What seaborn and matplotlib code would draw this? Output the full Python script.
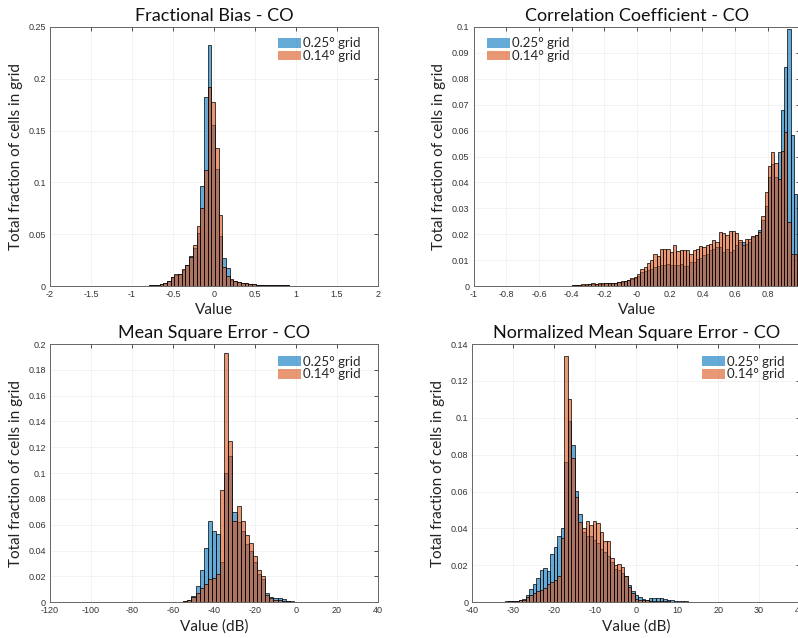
import numpy as np
import pandas as pd
import matplotlib
matplotlib.use("Agg")
import matplotlib.pyplot as plt
from matplotlib.patches import Patch
from matplotlib.ticker import FuncFormatter
import seaborn as sns

# --- histogram heights (fraction of cells per bin) ---
series_labels = ["0.25\u00b0 grid", "0.14\u00b0 grid"]

# Fractional Bias
fb_start, fb_width = -0.798, 0.045
fb_coarse = [0.0005, 0.0007, 0.001, 0.0018, 0.003, 0.005, 0.009, 0.011, 0.012, 0.015,
             0.020, 0.029, 0.037, 0.051, 0.097, 0.182, 0.233, 0.155, 0.113, 0.048,
             0.027, 0.017, 0.006, 0.0045, 0.0035, 0.003, 0.0025, 0.002, 0.0015, 0.0012,
             0.001, 0.0009, 0.0008, 0.0007, 0.0006, 0.0006, 0.0005, 0.0005, 0.0004, 0.0004,
             0.0004, 0.0003, 0.0003, 0.0003, 0.0003, 0.0002, 0.0002, 0.0002, 0.0002, 0.0002,
             0.0002, 0.0002]
fb_fine = [0.0005, 0.0008, 0.0012, 0.002, 0.003, 0.005, 0.009, 0.012, 0.012, 0.016,
           0.020, 0.028, 0.040, 0.058, 0.075, 0.112, 0.192, 0.178, 0.133, 0.069,
           0.018, 0.010, 0.007, 0.005, 0.004, 0.003, 0.0025, 0.002, 0.0015, 0.0012,
           0.001, 0.0009, 0.0008, 0.0007, 0.0006, 0.0006, 0.0005, 0.0005, 0.0004, 0.0004,
           0.0004, 0.0003, 0.0003, 0.0003, 0.0003, 0.0002, 0.0002, 0.0002, 0.0002, 0.0002,
           0.0002, 0.0002]

# Correlation Coefficient
cc_start, cc_width = -0.4, 0.02
cc_coarse = [0.0003, 0.0003, 0.0004, 0.0004, 0.0005, 0.0006, 0.0007, 0.0007, 0.0008, 0.0009,
             0.001, 0.001, 0.0011, 0.0012, 0.0014, 0.0016, 0.0018, 0.0022, 0.0026, 0.003,
             0.0037, 0.0054, 0.0058, 0.0063, 0.0067, 0.0074, 0.0076, 0.008, 0.0083, 0.0084,
             0.008, 0.008, 0.0082, 0.0086, 0.0076, 0.0076, 0.0093, 0.0093, 0.0106, 0.0108,
             0.0119, 0.0125, 0.0138, 0.0144, 0.0151, 0.0151, 0.0132, 0.0144, 0.0132, 0.014,
             0.0157, 0.017, 0.017, 0.0164, 0.017, 0.019, 0.0196, 0.0215, 0.0254, 0.031,
             0.042, 0.047, 0.042, 0.0519, 0.068, 0.0844, 0.0992, 0.0583, 0.0357, 0.0074]
cc_fine = [0.0002, 0.0003, 0.0005, 0.0006, 0.0007, 0.0008, 0.001, 0.0009, 0.0011, 0.0012,
           0.0012, 0.0013, 0.0012, 0.0013, 0.0016, 0.0018, 0.0021, 0.0025, 0.003, 0.0036,
           0.0045, 0.0067, 0.0074, 0.0089, 0.0099, 0.0123, 0.0115, 0.0141, 0.0142, 0.0141,
           0.0132, 0.016, 0.0135, 0.0138, 0.0138, 0.014, 0.0123, 0.0138, 0.0141, 0.0153,
           0.0151, 0.0157, 0.0164, 0.0177, 0.017, 0.0209, 0.0203, 0.0196, 0.0213, 0.0213,
           0.0203, 0.0177, 0.016, 0.018, 0.018, 0.0192, 0.0196, 0.021, 0.027, 0.0364,
           0.0464, 0.0519, 0.0473, 0.0415, 0.052, 0.0596, 0.0248, 0.0125, 0.0125, 0.005]

# Mean Square Error (dB)
mse_start, mse_width = -57.0, 2.0
mse_coarse = [0.0005, 0.001, 0.002, 0.005, 0.0126, 0.025, 0.042, 0.063, 0.055, 0.053,
              0.031, 0.100, 0.113, 0.070, 0.062, 0.055, 0.045, 0.040, 0.031, 0.022,
              0.018, 0.007, 0.004, 0.003, 0.003, 0.0025, 0.0012, 0.0006, 0.0004, 0.0003,
              0.0002, 0.0002, 0.0002, 0.0002]
mse_fine = [0.0003, 0.0008, 0.0015, 0.004, 0.007, 0.011, 0.014, 0.018, 0.019, 0.022,
            0.087, 0.193, 0.125, 0.063, 0.0748, 0.063, 0.052, 0.046, 0.036, 0.025,
            0.020, 0.006, 0.003, 0.002, 0.0015, 0.001, 0.0008, 0.0005, 0.0003, 0.0003,
            0.0002, 0.0002, 0.0002, 0.0002]

# Normalized Mean Square Error (dB)
nmse_start, nmse_width = -33.86, 0.86
nmse_coarse = [0.0003, 0.0004, 0.0005, 0.0006, 0.0006, 0.0008, 0.0012, 0.002, 0.004, 0.007,
               0.010, 0.013, 0.0175, 0.0185, 0.017, 0.026, 0.030, 0.036, 0.040, 0.076,
               0.098, 0.085, 0.0605, 0.0477, 0.038, 0.036, 0.036, 0.034, 0.032, 0.029,
               0.027, 0.025, 0.022, 0.018, 0.0175, 0.016, 0.014, 0.0095, 0.006, 0.004,
               0.003, 0.002, 0.0015, 0.0025, 0.0025, 0.0022, 0.0022, 0.0018, 0.0012, 0.001,
               0.0008, 0.0006, 0.0005, 0.0005, 0.0004, 0.0004, 0.0003, 0.0003, 0.0002, 0.0002]
nmse_fine = [0.0002, 0.0003, 0.0004, 0.0005, 0.0005, 0.0006, 0.001, 0.0015, 0.003, 0.004,
             0.005, 0.006, 0.0065, 0.008, 0.010, 0.011, 0.012, 0.014, 0.035, 0.1335,
             0.110, 0.078, 0.057, 0.0437, 0.040, 0.044, 0.042, 0.044, 0.043, 0.038,
             0.033, 0.033, 0.024, 0.020, 0.021, 0.019, 0.014, 0.0085, 0.005, 0.002,
             0.0015, 0.001, 0.001, 0.0008, 0.0008, 0.0006, 0.0006, 0.0005, 0.0005, 0.0004,
             0.0004, 0.0003, 0.0003, 0.0003, 0.0002, 0.0002, 0.0002, 0.0002, 0.0002, 0.0002]

blue = (0.0, 0.447, 0.741)
orange = (0.85, 0.325, 0.098)

sns.set_theme(style="white")
plt.rcParams["font.family"] = ["Lato", "DejaVu Sans"]

fig = plt.figure(figsize=(7.98, 6.38), dpi=100)
ax1 = fig.add_axes([0.0627, 0.5517, 0.4110, 0.4060])
ax2 = fig.add_axes([0.5934, 0.5517, 0.4097, 0.4060])
ax3 = fig.add_axes([0.0627, 0.0560, 0.4110, 0.4048])
ax4 = fig.add_axes([0.5919, 0.0560, 0.4106, 0.4048])


def tick_fmt(hide=None):
    return FuncFormatter(lambda v, p: "" if hide is not None and abs(v - hide) < 1e-9 else f"{v:g}")


def panel(ax, start, width, coarse, fine, title, xlabel, xlim, ylim, xticks, yticks,
          leg_anchor, hide_x=None):
    edges = [start + width * i for i in range(len(coarse) + 1)]
    centers = [e + width / 2 for e in edges[:-1]]
    for vals, col in [(coarse, blue), (fine, orange)]:
        df = pd.DataFrame({"value": centers, "frac": vals})
        sns.histplot(data=df, x="value", weights="frac", bins=edges, ax=ax, color=col,
                     alpha=0.6, edgecolor="black", linewidth=0.5)
    ax.set_xlim(*xlim)
    ax.set_ylim(*ylim)
    ax.set_xticks(xticks)
    ax.set_yticks(yticks)
    ax.xaxis.set_major_formatter(tick_fmt(hide_x))
    ax.yaxis.set_major_formatter(tick_fmt())
    ax.tick_params(direction="in", top=True, right=True, length=3, width=0.6,
                   labelsize=6.5, colors="#333333", pad=3)
    for lab in ax.get_xticklabels() + ax.get_yticklabels():
        lab.set_family(["Liberation Sans", "DejaVu Sans"])
    ax.grid(True, color="#efefef", linewidth=0.5)
    ax.set_axisbelow(True)
    for s in ax.spines.values():
        s.set_color("#666666")
        s.set_linewidth(0.7)
    ax.set_title(title, fontsize=13, pad=4, color="#111111")
    ax.set_xlabel(xlabel, fontsize=11, color="#222222", labelpad=3)
    ax.set_ylabel("Total fraction of cells in grid", fontsize=11, color="#222222", labelpad=4)
    handles = [Patch(facecolor=blue, alpha=0.6, edgecolor="none"),
               Patch(facecolor=orange, alpha=0.6, edgecolor="none")]
    ax.legend(handles, series_labels, loc="upper left", bbox_to_anchor=leg_anchor, frameon=False,
              fontsize=9.5, handlelength=1.75, handleheight=0.75, handletextpad=0.15,
              labelspacing=0.05, borderaxespad=0, borderpad=0)


panel(ax1, fb_start, fb_width, fb_coarse, fb_fine, "Fractional Bias - CO", "Value",
      (-2, 2), (0, 0.25), np.round(np.arange(-2, 2.01, 0.5), 2),
      np.round(np.arange(0, 0.251, 0.05), 2), (0.695, 0.96))
panel(ax2, cc_start, cc_width, cc_coarse, cc_fine, "Correlation Coefficient - CO", "Value",
      (-1, 1), (0, 0.1), np.round(np.arange(-1, 1.01, 0.2), 2),
      np.round(np.arange(0, 0.101, 0.01), 2), (0.04, 0.96), hide_x=1.0)
panel(ax3, mse_start, mse_width, mse_coarse, mse_fine, "Mean Square Error - CO", "Value (dB)",
      (-120, 40), (0, 0.2), np.arange(-120, 41, 20),
      np.round(np.arange(0, 0.201, 0.02), 2), (0.695, 0.955))
panel(ax4, nmse_start, nmse_width, nmse_coarse, nmse_fine, "Normalized Mean Square Error - CO",
      "Value (dB)", (-40, 40), (0, 0.14), np.arange(-40, 41, 10),
      np.round(np.arange(0, 0.141, 0.02), 2), (0.70, 0.955))

fig.savefig("out.png", dpi=100)
